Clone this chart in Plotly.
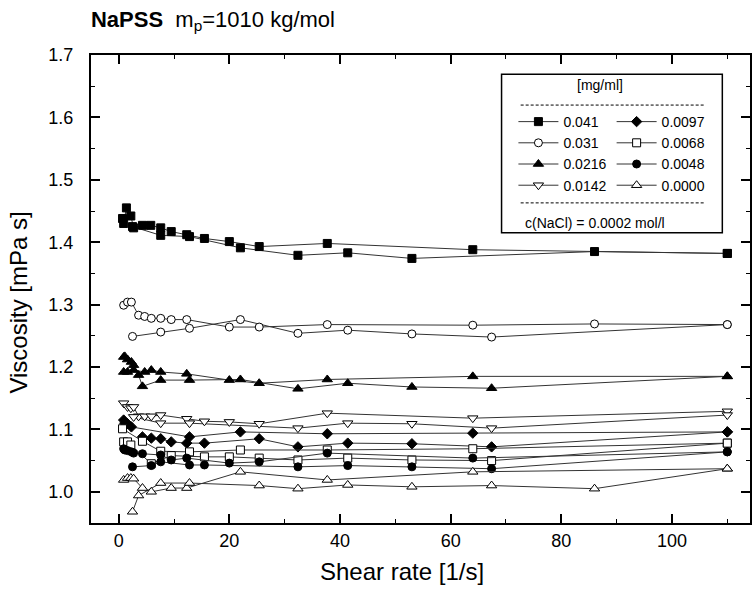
import plotly.graph_objects as go

# ---------------- data ----------------
conc_labels = ["0.041", "0.031", "0.0216", "0.0142", "0.0097", "0.0068", "0.0048", "0.0000"]

x041_a = [0.7, 0.9, 1.4, 2.2, 2.7, 4.3, 5.8, 7.6, 9.5, 12.3, 15.5, 20, 25.4, 37.7, 64, 110]
y041_a = [1.438, 1.430, 1.455, 1.442, 1.423, 1.427, 1.427, 1.423, 1.417, 1.412, 1.406, 1.401, 1.393, 1.398, 1.388, 1.382]
x041_b = [2.5, 7.6, 12.8, 22, 32.4, 41.4, 53, 86, 110]
y041_b = [1.425, 1.411, 1.409, 1.391, 1.379, 1.383, 1.374, 1.385, 1.382]

x031_a = [0.9, 1.6, 2.3, 3.6, 4.7, 5.9, 7.6, 9.5, 12.3, 20, 25.4, 37.7, 64, 86, 110]
y031_a = [1.299, 1.304, 1.304, 1.283, 1.281, 1.278, 1.278, 1.276, 1.276, 1.264, 1.264, 1.268, 1.267, 1.269, 1.268]
x031_b = [2.5, 7.6, 12.8, 22, 32.4, 41.4, 53, 67.4, 110]
y031_b = [1.249, 1.256, 1.262, 1.276, 1.254, 1.259, 1.253, 1.248, 1.268]

x0216_a = [0.9, 1.6, 2.7, 4.7, 5.9, 7.6, 12.3, 20, 25.4, 37.7, 64, 110]
y0216_a = [1.192, 1.192, 1.195, 1.192, 1.195, 1.192, 1.189, 1.179, 1.174, 1.180, 1.185, 1.185]
x0216_b = [0.9, 1.1, 1.6, 2.3, 2.7, 3.6, 4.3, 7.6, 12.8, 22, 32.4, 41.4, 53, 67.4, 110]
y0216_b = [1.216, 1.217, 1.212, 1.208, 1.203, 1.187, 1.169, 1.179, 1.179, 1.180, 1.165, 1.174, 1.168, 1.166, 1.185]

x0142_a = [0.9, 1.6, 2.2, 2.7, 3.6, 4.7, 5.9, 7.6, 12.3, 15.5, 20, 25.4, 37.7, 64, 110]
y0142_a = [1.142, 1.136, 1.134, 1.136, 1.121, 1.121, 1.121, 1.123, 1.117, 1.113, 1.112, 1.109, 1.126, 1.118, 1.129]
x0142_b = [2.7, 7.6, 12.8, 32.4, 41.4, 53, 67.4, 110]
y0142_b = [1.120, 1.110, 1.110, 1.102, 1.110, 1.109, 1.102, 1.123]

x0097_a = [0.9, 1.1, 1.6, 2.3, 12.8, 22, 37.7, 64, 110]
y0097_a = [1.115, 1.110, 1.109, 1.104, 1.088, 1.096, 1.093, 1.094, 1.096]
x0097_b = [4.3, 5.9, 7.6, 9.5, 12.3, 15.5, 25.4, 32.4, 41.4, 53, 67.4, 110]
y0097_b = [1.088, 1.086, 1.085, 1.080, 1.078, 1.078, 1.085, 1.072, 1.078, 1.077, 1.072, 1.096]

x0068_a = [0.7, 4.3, 7.6, 12.8, 22, 37.7, 64, 110]
y0068_a = [1.101, 1.081, 1.065, 1.064, 1.067, 1.067, 1.069, 1.078]
x0068_b = [0.9, 1.6, 2.2, 5.9, 9.5, 15.5, 20, 25.4, 32.4, 41.4, 53, 67.4, 110]
y0068_b = [1.080, 1.080, 1.075, 1.045, 1.058, 1.056, 1.056, 1.054, 1.051, 1.054, 1.051, 1.050, 1.078]

x0048_a = [0.9, 1.1, 1.6, 2.3, 2.7, 4.3, 7.6, 9.5, 12.3, 20, 25.4, 37.7, 64, 110]
y0048_a = [1.069, 1.067, 1.066, 1.064, 1.062, 1.061, 1.059, 1.051, 1.054, 1.046, 1.048, 1.062, 1.054, 1.064]
x0048_b = [2.5, 5.9, 7.6, 12.8, 15.5, 32.4, 41.4, 53, 67.4, 110]
y0048_b = [1.040, 1.042, 1.048, 1.043, 1.043, 1.040, 1.042, 1.040, 1.037, 1.064]

x0000_a = [0.9, 1.6, 2.2, 2.7, 4.3, 5.9, 9.5, 12.3, 22, 37.7, 64, 110]
y0000_a = [1.019, 1.022, 1.022, 1.021, 1.006, 1.000, 1.006, 1.006, 1.032, 1.019, 1.032, 1.037]
x0000_b = [2.5, 3.6, 7.6, 12.8, 25.4, 32.4, 41.4, 53, 67.4, 86, 110]
y0000_b = [0.968, 0.994, 1.014, 1.014, 1.010, 1.005, 1.011, 1.008, 1.010, 1.005, 1.037]

x_ticks = [0, 20, 40, 60, 80, 100]
y_ticks = [1.0, 1.1, 1.2, 1.3, 1.4, 1.5, 1.6, 1.7]

# ---------------- figure ----------------
FONT = "Liberation Sans, Arial, sans-serif"
series = [
    ("0.041", x041_a, y041_a, x041_b, y041_b, "square", "black", "legend"),
    ("0.031", x031_a, y031_a, x031_b, y031_b, "circle", "white", "legend"),
    ("0.0216", x0216_a, y0216_a, x0216_b, y0216_b, "triangle-up", "black", "legend"),
    ("0.0142", x0142_a, y0142_a, x0142_b, y0142_b, "triangle-down", "white", "legend"),
    ("0.0097", x0097_a, y0097_a, x0097_b, y0097_b, "diamond", "black", "legend2"),
    ("0.0068", x0068_a, y0068_a, x0068_b, y0068_b, "square", "white", "legend2"),
    ("0.0048", x0048_a, y0048_a, x0048_b, y0048_b, "circle", "black", "legend2"),
    ("0.0000", x0000_a, y0000_a, x0000_b, y0000_b, "triangle-up", "white", "legend2"),
]

fig = go.Figure()
for name, xa, ya, xb, yb, sym, fill, lg in series:
    xs = list(xa) + [None] + list(xb)
    ys = list(ya) + [None] + list(yb)
    size = 9 if "triangle" in sym else 8
    fig.add_trace(go.Scatter(
        x=xs, y=ys, name=name, mode="lines+markers", legend=lg,
        connectgaps=False,
        line=dict(color="#333333", width=1),
        marker=dict(symbol=sym, size=size, color=fill,
                    line=dict(color="black", width=1)),
    ))

axis_common = dict(
    showline=True, linecolor="black", linewidth=2, mirror="ticks",
    ticks="inside", ticklen=9, tickwidth=1.5, tickcolor="black",
    showgrid=False, zeroline=False,
    tickfont=dict(family=FONT, size=18, color="black"),
)

fig.update_xaxes(
    range=[-5, 114.1], tickvals=x_ticks, ticklabelstandoff=0,
    minor=dict(ticks="inside", ticklen=4, tickwidth=1.2, tickcolor="black", dtick=10, tick0=0),
    **axis_common,
)
fig.update_yaxes(
    range=[0.95, 1.7], tickvals=y_ticks, tickformat=".1f", ticklabelstandoff=12,
    minor=dict(ticks="inside", ticklen=4, tickwidth=1.2, tickcolor="black", dtick=0.05, tick0=0),
    **axis_common,
)

legend_common = dict(
    bgcolor="rgba(0,0,0,0)", borderwidth=0, tracegroupgap=0, itemwidth=40,
    font=dict(family=FONT, size=14, color="black"),
    yanchor="top", xanchor="left", orientation="v",
)

fig.update_layout(
    width=752, height=590,
    margin=dict(l=91, r=0, t=55, b=67),
    paper_bgcolor="white", plot_bgcolor="white",
    title=dict(text="<b>NaPSS</b>  m<sub>p</sub>=1010 kg/mol", x=0.121, xanchor="left",
               y=0.968, yanchor="middle", font=dict(family=FONT, size=22, color="black")),
    legend=dict(x=0.641, y=0.891, **legend_common),
    legend2=dict(x=0.790, y=0.891, **legend_common),
    showlegend=True,
)

# axis titles
fig.add_annotation(xref="paper", yref="paper", x=0.472, y=-0.103, text="Shear rate [1/s]",
                   showarrow=False, xanchor="center", yanchor="middle",
                   font=dict(family=FONT, size=24, color="black"))
fig.add_annotation(xref="paper", yref="paper", x=-0.110, y=0.47, text="Viscosity [mPa s]",
                   showarrow=False, xanchor="center", yanchor="middle", textangle=-90,
                   font=dict(family=FONT, size=24, color="black"))

# legend frame and decorations
fig.add_shape(type="rect", xref="paper", yref="paper", x0=0.623, x1=0.958, y0=0.620, y1=0.959,
              line=dict(color="black", width=1.5), fillcolor="rgba(0,0,0,0)")
for yy in (0.893, 0.684):
    fig.add_shape(type="line", xref="paper", yref="paper", x0=0.652, x1=0.932, y0=yy, y1=yy,
                  line=dict(color="black", width=1, dash="3px,2px"))
fig.add_annotation(xref="paper", yref="paper", x=0.773, y=0.936, text="[mg/ml]", showarrow=False,
                   xanchor="center", yanchor="middle", font=dict(family=FONT, size=14, color="black"))
fig.add_annotation(xref="paper", yref="paper", x=0.656, y=0.641, text="c(NaCl) = 0.0002 mol/l",
                   showarrow=False, xanchor="left", yanchor="middle",
                   font=dict(family=FONT, size=14, color="black"))

fig.write_html("out.html")
